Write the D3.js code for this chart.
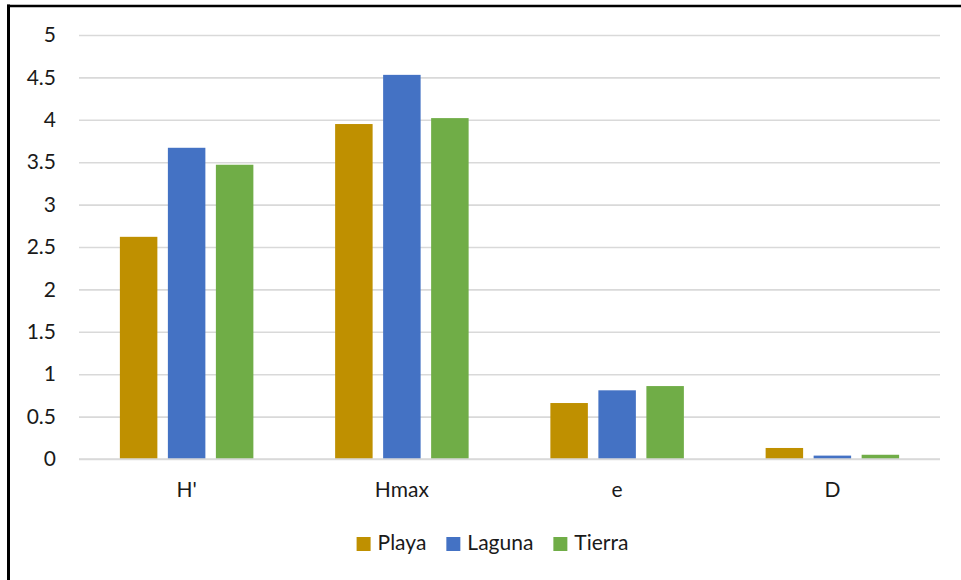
<!DOCTYPE html>
<html>
<head>
<meta charset="utf-8">
<script src="https://cdn.jsdelivr.net/npm/d3@7"></script>
<style>
  html, body { margin: 0; padding: 0; background: #fff; }
  svg { display: block; }
  text { font-family: Lato, "Open Sans", sans-serif; fill: #1a1a1a; }
</style>
</head>
<body>
<script>
// ---- data ----
const categories = ["H'", "Hmax", "e", "D"];
const seriesNames = ["Playa", "Laguna", "Tierra"];
const playa  = [2.62, 3.95, 0.66, 0.13];
const laguna = [3.67, 4.53, 0.81, 0.04];
const tierra = [3.47, 4.02, 0.86, 0.05];
const seriesColors = ["#BF9000", "#4472C4", "#70AD47"];
const yTicks = [0, 0.5, 1, 1.5, 2, 2.5, 3, 3.5, 4, 4.5, 5];
const yTickLabels = ["0", "0.5", "1", "1.5", "2", "2.5", "3", "3.5", "4", "4.5", "5"];

const seriesValues = [playa, laguna, tierra];

const W = 961, H = 580;
const plot = { left: 79, right: 940, top: 35, bottom: 459 };
const FS = "21px";

const svg = d3.select("body").append("svg").attr("width", W).attr("height", H);

// frame
svg.append("line").attr("x1", 8.5).attr("x2", 8.5).attr("y1", 4.5).attr("y2", H)
  .attr("stroke", "#000").attr("stroke-width", 3);
svg.append("line").attr("x1", 7).attr("x2", W).attr("y1", 6).attr("y2", 6)
  .attr("stroke", "#000").attr("stroke-width", 2.5);

const y = d3.scaleLinear().domain([0, 5]).range([plot.bottom, plot.top]);
const x0 = d3.scaleBand().domain(categories).range([plot.left, plot.right]).padding(0);
const groupW = 133.5;
const x1 = d3.scaleBand().domain(seriesNames).range([0, groupW]).paddingInner(0.219).paddingOuter(0);

// gridlines
const grid = svg.append("g").call(
  d3.axisLeft(y).tickValues(yTicks).tickSize(-(plot.right - plot.left)).tickFormat("")
).attr("transform", `translate(${plot.left},0)`);
grid.select(".domain").remove();
grid.selectAll(".tick line").attr("stroke", "#d9d9d9").attr("stroke-width", 1.6);

// y labels
const yAxis = svg.append("g").attr("transform", `translate(${plot.left},0)`)
  .call(d3.axisLeft(y).tickValues(yTicks).tickSize(0).tickPadding(23)
    .tickFormat((d, i) => yTickLabels[i]));
yAxis.select(".domain").remove();
yAxis.selectAll("text").style("font-size", FS).style("font-family", "Lato, sans-serif").attr("fill", "#1a1a1a");

// bars
const groups = svg.append("g").selectAll("g").data(categories).join("g")
  .attr("transform", d => `translate(${x0(d) + (x0.bandwidth() - groupW) / 2},0)`);
groups.selectAll("rect")
  .data((c, ci) => seriesNames.map((s, si) => ({ s, si, v: seriesValues[si][ci] })))
  .join("rect")
  .attr("x", d => x1(d.s))
  .attr("width", x1.bandwidth())
  .attr("y", d => y(d.v))
  .attr("height", d => y(0) - y(d.v))
  .attr("fill", d => seriesColors[d.si]);

// baseline
svg.append("line").attr("x1", plot.left).attr("x2", plot.right)
  .attr("y1", y(0)).attr("y2", y(0)).attr("stroke", "#d9d9d9").attr("stroke-width", 1.6);

// x labels
const xAxis = svg.append("g").attr("transform", `translate(0,${plot.bottom})`)
  .call(d3.axisBottom(x0).tickSize(0).tickPadding(23));
xAxis.select(".domain").remove();
xAxis.selectAll("text").style("font-size", FS).style("font-family", "Lato, sans-serif").attr("fill", "#1a1a1a");

// legend
const legend = svg.append("g");
const items = legend.selectAll("g").data(seriesNames).join("g");
items.append("rect").attr("width", 14).attr("height", 14).attr("y", 537)
  .attr("fill", (d, i) => seriesColors[i]);
items.append("text").attr("x", 21).attr("y", 550).style("font-size", FS).text(d => d);
let cx = 0;
const widths = [];
items.each(function () {
  widths.push(21 + this.querySelector("text").getComputedTextLength());
});
const gap = 20;
const total = d3.sum(widths) + gap * (widths.length - 1);
cx = 492.5 - total / 2;
items.attr("transform", (d, i) => {
  const t = `translate(${cx},0)`;
  cx += widths[i] + gap;
  return t;
});
</script>
</body>
</html>
